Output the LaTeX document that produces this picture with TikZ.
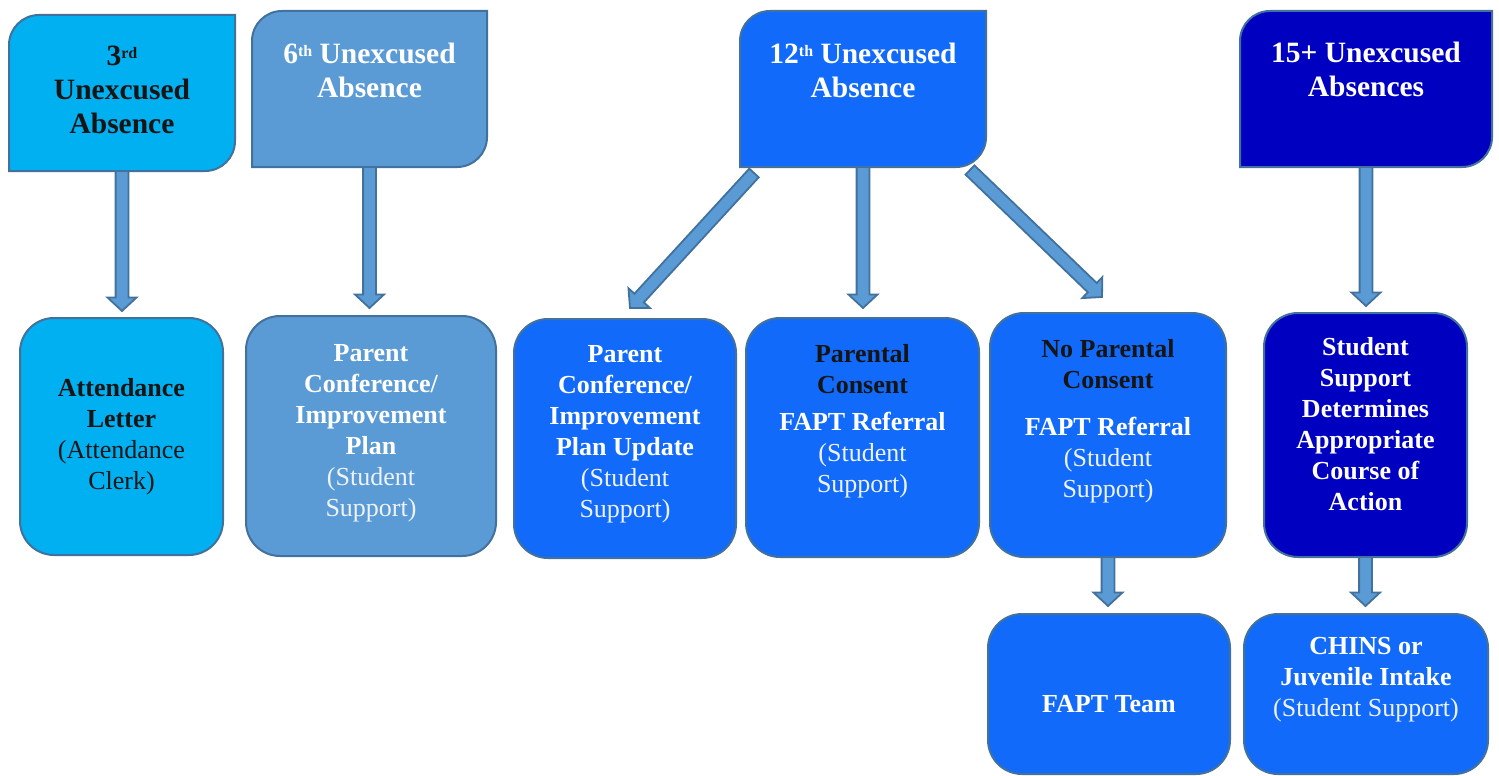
\documentclass[tikz,border=0pt]{standalone}
\usepackage{fontspec}
\setmainfont{Liberation Serif}
\usetikzlibrary{calc}
\definecolor{cyanbox}{HTML}{00B0F0}
\definecolor{midbox}{HTML}{5B9BD5}
\definecolor{bluebox}{HTML}{116AFA}
\definecolor{darkbox}{HTML}{0000C0}
\definecolor{edge}{HTML}{41719C}
\definecolor{subwhite}{HTML}{EEF2FB}
\definecolor{darktext}{HTML}{151515}
\newcommand\sups[1]{\raisebox{7pt}{\fontsize{16}{16}\selectfont #1}}
\newcommand\lite[1]{{\mdseries\color{subwhite}#1}}
\newcommand\snipbox[2]{%
  \path[snipline, fill=#2] (#1.south west) -- ($(#1.north west)+(0,30)$)
    .. controls ($(#1.north west)+(0,13.4)$) and ($(#1.north west)+(13.4,0)$) .. ($(#1.north west)+(30,0)$)
    -- (#1.north east) -- ($(#1.south east)+(0,-30)$)
    .. controls ($(#1.south east)+(0,-13.4)$) and ($(#1.south east)+(-13.4,0)$) .. ($(#1.south east)+(-30,0)$)
    -- cycle;}
\newcommand\barrow[2]{%
  \coordinate (bA) at #1; \coordinate (bB) at #2;
  \coordinate (bH) at ($(bB)!13.5pt!(bA)$);
  \path[arrowstyle] ($(bA)!6.4pt!90:(bB)$) -- ($(bH)!6.4pt!90:(bB)$) -- ($(bH)!14.5pt!90:(bB)$) -- (bB)
    -- ($(bH)!14.5pt!-90:(bB)$) -- ($(bH)!6.4pt!-90:(bB)$) -- ($(bA)!6.4pt!-90:(bB)$) -- cycle;}
\tikzset{
  shapebox/.style={rectangle, inner sep=0pt, outer sep=0pt},
  roundbox/.style={shapebox, draw=edge, line width=2pt, rounded corners=34pt},
  snipline/.style={draw=edge, line width=2pt},
  arrowstyle/.style={fill=midbox, draw=edge, line width=1.8pt, line join=miter},
  toptext/.style={inner sep=0pt, align=center, anchor=north, text=white,
    font=\fontsize{29.5}{34}\selectfont\bfseries},
  bottext/.style={inner sep=0pt, align=center, text=white,
    font=\fontsize{26}{31}\selectfont\bfseries}
}
\begin{document}
\begin{tikzpicture}[x=1pt, y=-1pt]
\useasboundingbox (0,0) rectangle (1499,776);
% top boxes (shapes)
\node[shapebox, minimum width=226pt, minimum height=156pt] (t3) at (122,93) {};
\node[shapebox, minimum width=235pt, minimum height=156pt] (t6) at (369.5,89) {};
\node[shapebox, minimum width=246pt, minimum height=156pt] (t12) at (863,89) {};
\node[shapebox, minimum width=252pt, minimum height=156pt] (t15) at (1366,89) {};
\snipbox{t3}{cyanbox}
\snipbox{t6}{midbox}
\snipbox{t12}{bluebox}
\snipbox{t15}{darkbox}
% top texts
\node[toptext, text=darktext] (x3) at ($(t3.north)+(0,31)$) {3\sups{rd}\\Unexcused\\Absence};
\node[toptext] (x6) at ($(t6.north)+(0,32)$) {6\sups{th} Unexcused\\Absence};
\node[toptext] (x12) at ($(t12.north)+(0,32)$) {12\sups{th} Unexcused\\Absence};
\node[toptext] (x15) at ($(t15.north)+(0,31)$) {15+ Unexcused\\Absences};
% bottom boxes
\node[roundbox, fill=cyanbox, minimum width=203pt, minimum height=237pt] (l1) at (121.5,436.5) {};
\node[roundbox, fill=midbox, minimum width=250pt, minimum height=240pt] (l2) at (371,436) {};
\node[roundbox, fill=bluebox, minimum width=222pt, minimum height=239pt] (pcu) at (625,438.5) {};
\node[roundbox, fill=bluebox, minimum width=233pt, minimum height=239pt] (pc) at (862.5,437.5) {};
\node[roundbox, fill=bluebox, minimum width=236pt, minimum height=244pt] (npc) at (1108,435) {};
\node[roundbox, fill=darkbox, minimum width=203pt, minimum height=244pt] (ssd) at (1365.5,435) {};
\node[roundbox, fill=bluebox, minimum width=242pt, minimum height=160pt] (fapt) at (1109,694) {};
\node[roundbox, fill=bluebox, minimum width=244pt, minimum height=160pt] (chins) at (1366,694) {};
% bottom texts
\node[bottext, text=darktext] (y1) at (l1.center) {Attendance\\Letter\\{\mdseries (Attendance}\\{\mdseries Clerk)}};
\node[bottext] (y2) at ($(l2.center)+(0,-3)$) {Parent\\Conference/\\Improvement\\Plan\\\lite{(Student}\\\lite{Support)}};
\node[bottext] (y3) at ($(pcu.center)+(0,-4)$) {Parent\\Conference/\\Improvement\\Plan Update\\\lite{(Student}\\\lite{Support)}};
\node[bottext] (y4) at ($(pc.center)+(0,-16)$) {{\color{darktext}Parental}\\{\color{darktext}Consent}\\[6pt]FAPT Referral\\\lite{(Student}\\\lite{Support)}};
\node[bottext] (y5) at ($(npc.center)+(0,-14)$) {{\color{darktext}No Parental}\\{\color{darktext}Consent}\\[16pt]FAPT Referral\\\lite{(Student}\\\lite{Support)}};
\node[bottext] (y6) at ($(ssd.center)+(0,-11)$) {Student\\Support\\Determines\\Appropriate\\Course of\\Action};
\node[bottext] (y7) at ($(fapt.center)+(0,10)$) {FAPT Team};
\node[bottext] (y8) at ($(chins.center)+(0,-14)$) {CHINS or\\Juvenile Intake\\\lite{(Student Support)}};
% arrows
\barrow{(t3.south)}{($(t3.south |- l1.north)+(0,-7)$)}
\barrow{(t6.south)}{($(t6.south |- l2.north)+(0,-8)$)}
\barrow{(t12.south)}{($(t12.south |- pc.north)+(0,-10)$)}
\barrow{($(t12.south west)+(14,6)$)}{($(pcu.north)+(5,-11)$)}
\barrow{($(t12.south east)+(-16,3)$)}{($(npc.north)+(-6,-16)$)}
\barrow{(t15.south)}{($(t15.south |- ssd.north)+(0,-7)$)}
\barrow{(npc.south)}{($(npc.south |- fapt.north)+(0,-8)$)}
\barrow{(ssd.south)}{($(ssd.south |- chins.north)+(0,-8)$)}
\end{tikzpicture}
\end{document}
